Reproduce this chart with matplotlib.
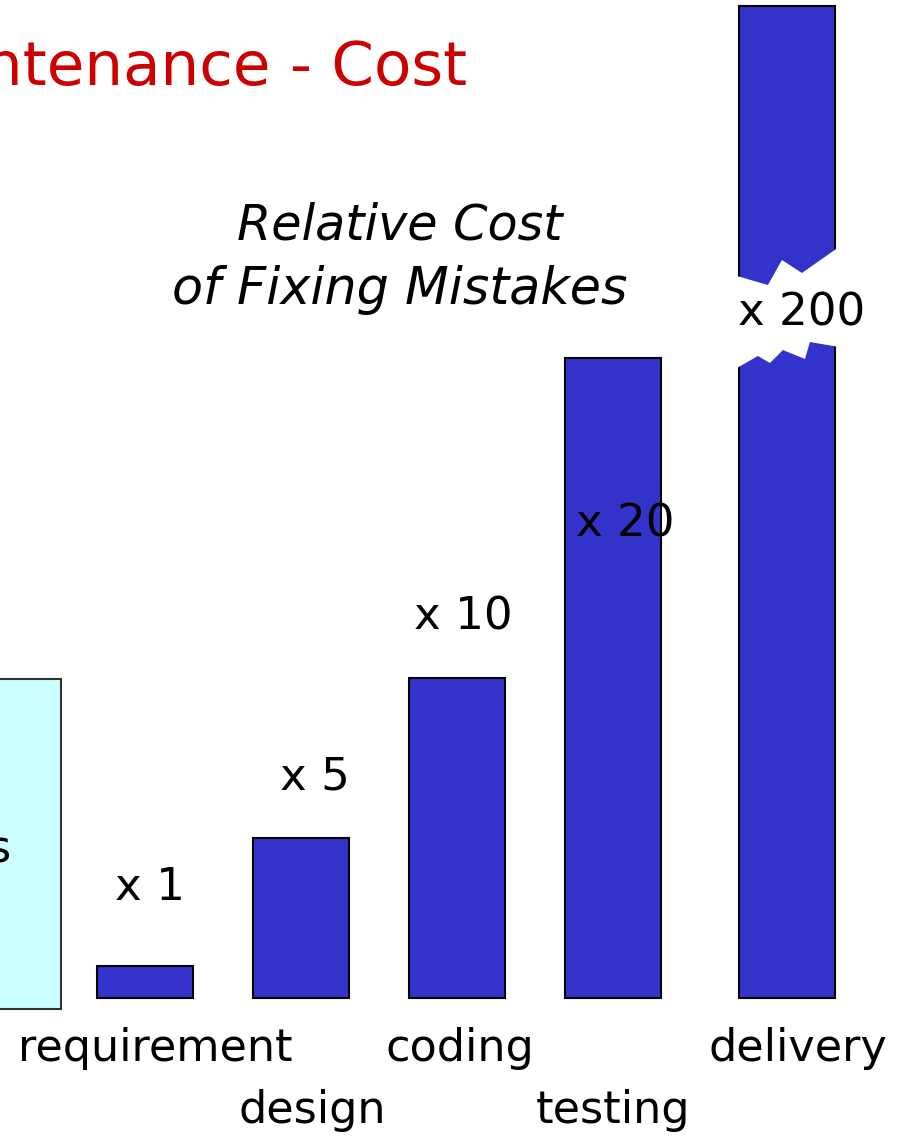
import matplotlib
matplotlib.use("Agg")
import matplotlib.pyplot as plt
from matplotlib.patches import Rectangle, Polygon

# data
stages = ["requirement", "design", "coding", "testing", "delivery"]
rel_cost = [1, 5, 10, 20, 200]
cost_labels = ["x 1", "x 5", "x 10", "x 20", "x 200"]
x_pos = [0, 1, 2, 3, 4.115]

W, H = 901, 1137
PXX, PXY = 156.0, 32.0      # pixels per unit
X0, Y0 = 145.0, 998.0       # pixel of x=0, y=0
cap = 31.0                  # tallest bar shown (broken bar)

fig = plt.figure(figsize=(W / 100, H / 100), dpi=100)
fig.patch.set_facecolor("white")
ax = fig.add_axes([0, 0, 1, 1])
ax.set_xlim(-X0 / PXX, (W - X0) / PXX)
ax.set_ylim(-(H - Y0) / PXY, Y0 / PXY)
ax.axis("off")

def px(x, y):
    return (x / W, 1 - y / H)

# left-over box from the previous chart on the slide
ax.add_patch(Rectangle(px(-20, 1009), 81 / W, 330 / H, transform=fig.transFigure,
                       facecolor="#ccffff", edgecolor="#333333", lw=1.5, zorder=1))
fig.text(*px(11, 850), "s", fontsize=32, ha="right", va="center", color="black")

shown = [min(v, cap) for v in rel_cost]
ax.bar(x_pos, shown, width=96 / PXX, color="#3333cc", edgecolor="black",
       linewidth=1.5, zorder=2)

# break on the delivery bar
cx = x_pos[-1] * PXX + X0
upper = [(-50, 276), (-19, 285), (-5, 260), (15, 273), (52, 247)]
lower = [(52, 347), (23, 342), (18, 359), (-4, 350), (-17, 363), (-29, 356), (-50, 368)]
pts = [((cx + dx - X0) / PXX, (Y0 - py) / PXY) for dx, py in upper + lower]
ax.add_patch(Polygon(pts, closed=True, facecolor="white", edgecolor="none", zorder=3))

# value labels
lab_xy = [(150, 888), (315, 777), (463, 617), (625, 524), (802, 313)]
for t, (lx, ly) in zip(cost_labels, lab_xy):
    fig.text(*px(lx, ly), t, fontsize=32.5, ha="center", va="center", color="black",
             zorder=5)

# category labels, staggered
cat_xy = [(155, 1048), (312, 1110), (460, 1048), (613, 1110), (798, 1048)]
for t, (lx, ly) in zip(stages, cat_xy):
    fig.text(*px(lx, ly), t, fontsize=32, ha="center", va="center", color="black")

fig.text(*px(400, 226), "Relative Cost", fontsize=35.5, style="italic",
         ha="center", va="center")
fig.text(*px(400, 290), "of Fixing Mistakes", fontsize=36.5, style="italic",
         ha="center", va="center")

fig.text(*px(467, 85), "ntenance - Cost", fontsize=44, color="#cc0000",
         ha="right", va="baseline")

fig.savefig("out.png", dpi=100, facecolor="white")
